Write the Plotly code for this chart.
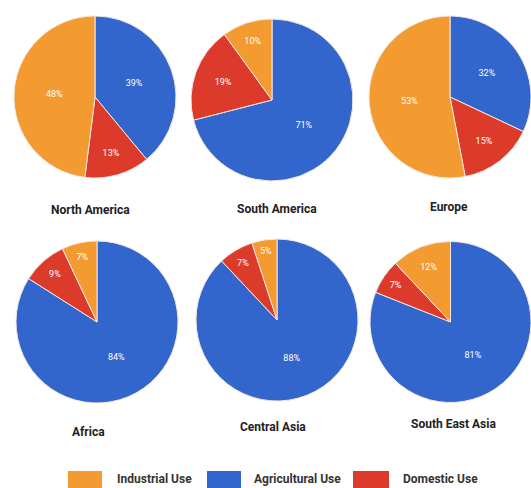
import plotly.graph_objects as go

regions = ["North America", "South America", "Europe", "Africa", "Central Asia", "South East Asia"]
labels = ["Agricultural Use", "Domestic Use", "Industrial Use"]
agricultural = [39, 71, 32, 84, 88, 81]
domestic = [13, 19, 15, 9, 7, 7]
industrial = [48, 10, 53, 7, 5, 12]
legend_order = ["Industrial Use", "Agricultural Use", "Domestic Use"]

colors = {"Agricultural Use": "#3366CC", "Domestic Use": "#DC3B2C", "Industrial Use": "#F39A30"}

W, H = 531, 488
# pie centres (px, from top-left) and radius
centres = [(95, 97), (272, 100), (450, 97), (97, 322), (277, 320), (451, 322)]
R = 81
title_pos = [(90, 210), (277, 209), (449, 207), (88, 432), (273, 427), (453, 424)]

fig = go.Figure()
for i, name in enumerate(regions):
    cx, cy = centres[i]
    vals = [agricultural[i], domestic[i], industrial[i]]
    fig.add_trace(go.Pie(
        labels=labels, values=vals, sort=False, direction="clockwise", rotation=0,
        marker=dict(colors=[colors[l] for l in labels], line=dict(color="#F5E6E0", width=1)),
        texttemplate="%{value}%", textposition="inside", insidetextorientation="horizontal",
        textfont=dict(color="white", size=9, family="Roboto"),
        hoverinfo="label+value", showlegend=False, name=name,
        domain=dict(x=[max(0, (cx - R) / W), min(1, (cx + R) / W)],
                    y=[max(0, (H - cy - R) / H), min(1, (H - cy + R) / H)]),
    ))
    tx, ty = title_pos[i]
    fig.add_annotation(x=tx / W, y=1 - ty / H, xref="paper", yref="paper", text="<b>%s</b>" % name,
                       showarrow=False, font=dict(size=12, color="#222222", family="Roboto"),
                       xanchor="center", yanchor="middle")

# manual legend
sw = [(68, 102), (207, 241), (353, 389)]
txt_x = [115, 252, 401]
for j, lab in enumerate(legend_order):
    x0, x1 = sw[j]
    fig.add_shape(type="rect", xref="paper", yref="paper", x0=x0 / W, x1=x1 / W,
                  y0=0, y1=1 - 471 / H, fillcolor=colors[lab], line=dict(width=0))
    fig.add_annotation(x=txt_x[j] / W, y=1 - 479 / H, xref="paper", yref="paper", text="<b>%s</b>" % lab,
                       showarrow=False, font=dict(size=12, color="#333333", family="Roboto"),
                       xanchor="left", yanchor="middle")

fig.update_layout(width=W, height=H, margin=dict(l=0, r=0, t=0, b=0),
                  paper_bgcolor="white", plot_bgcolor="white")
fig.write_html("out.html", config={"displayModeBar": False},
               post_script="document.body.style.margin='0';document.body.style.overflow='hidden';")
